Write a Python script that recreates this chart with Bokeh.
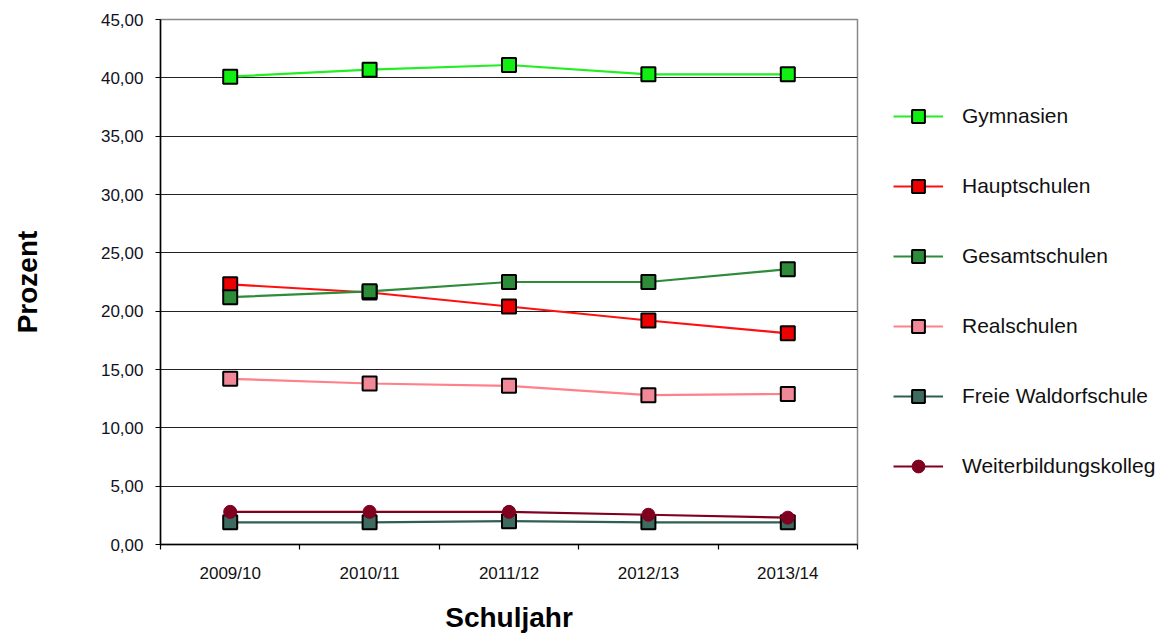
import numpy as np
from bokeh.plotting import figure
from bokeh.models import Range1d, FixedTicker, CustomJSTickFormatter, Legend, LegendItem
from bokeh.embed import file_html
from bokeh.resources import INLINE

categories = ["2009/10", "2010/11", "2011/12", "2012/13", "2013/14"]
gymnasien = [40.1, 40.7, 41.1, 40.3, 40.3]
hauptschulen = [22.3, 21.6, 20.4, 19.2, 18.1]
gesamtschulen = [21.2, 21.7, 22.5, 22.5, 23.6]
realschulen = [14.2, 13.8, 13.6, 12.8, 12.9]
waldorf = [1.9, 1.9, 2.0, 1.9, 1.9]
weiterbildung = [2.8, 2.8, 2.8, 2.55, 2.3]
y_ticks = [0, 5, 10, 15, 20, 25, 30, 35, 40, 45]

FONT = "Liberation Sans"

xs = np.arange(len(categories)) + 0.5

p = figure(frame_width=697, frame_height=525, output_backend="svg", toolbar_location=None,
           x_range=Range1d(0, len(categories)), y_range=Range1d(0, 45),
           min_border_left=160, min_border_right=0, min_border_top=19, min_border_bottom=90)
p.background_fill_color = "white"
p.border_fill_color = "white"
p.outline_line_color = "#888888"
p.outline_line_width = 1.5

p.xgrid.grid_line_color = None
p.ygrid.grid_line_color = "#222222"
p.ygrid.grid_line_width = 1.2
p.ygrid.ticker = FixedTicker(ticks=y_ticks)

# y axis
p.yaxis.ticker = FixedTicker(ticks=y_ticks)
p.yaxis.formatter = CustomJSTickFormatter(code="return tick.toFixed(2).replace('.', ',');")
p.yaxis.axis_line_color = "black"
p.yaxis.axis_line_width = 1.5
p.yaxis.major_tick_out = 5
p.yaxis.major_tick_in = 0
p.yaxis.major_tick_line_color = "black"
p.yaxis.minor_tick_line_color = None
p.yaxis.major_label_text_font = FONT
p.yaxis.major_label_text_font_size = "17px"
p.yaxis.major_label_text_color = "#111122"
p.yaxis.major_label_standoff = 12
p.yaxis.axis_label = "Prozent"
p.yaxis.axis_label_text_font = FONT
p.yaxis.axis_label_text_font_size = "28px"
p.yaxis.axis_label_text_font_style = "bold"
p.yaxis.axis_label_text_color = "black"
p.yaxis.axis_label_standoff = 55

# x axis: labels at category centres, ticks at category boundaries
p.xaxis.ticker = FixedTicker(ticks=list(xs), minor_ticks=list(range(len(categories) + 1)))
p.xaxis.major_label_overrides = {float(x): c for x, c in zip(xs, categories)}
p.xaxis.axis_line_color = "black"
p.xaxis.axis_line_width = 1.5
p.xaxis.major_tick_out = 0
p.xaxis.major_tick_in = 0
p.xaxis.minor_tick_out = 5
p.xaxis.minor_tick_in = 0
p.xaxis.minor_tick_line_color = "black"
p.xaxis.minor_tick_line_width = 1.2
p.xaxis.major_label_text_font = FONT
p.xaxis.major_label_text_font_size = "17px"
p.xaxis.major_label_text_color = "#111111"
p.xaxis.major_label_standoff = 14
p.xaxis.axis_label = "Schuljahr"
p.xaxis.axis_label_text_font = FONT
p.xaxis.axis_label_text_font_size = "28px"
p.xaxis.axis_label_text_font_style = "bold"
p.xaxis.axis_label_text_color = "black"
p.xaxis.axis_label_standoff = 16

series = [
    ("Gymnasien", gymnasien, "#22ee22", "#11ee11", "square"),
    ("Hauptschulen", hauptschulen, "#ff1010", "#ee0000", "square"),
    ("Gesamtschulen", gesamtschulen, "#2e8b3a", "#2e8b3a", "square"),
    ("Realschulen", realschulen, "#ff8088", "#f08898", "square"),
    ("Freie Waldorfschule", waldorf, "#2f5f52", "#3d6b60", "square"),
    ("Weiterbildungskolleg", weiterbildung, "#800020", "#800020", "circle"),
]

items = []
for name, vals, lc, mc, marker in series:
    l = p.line(xs, vals, line_color=lc, line_width=2.2)
    if marker == "square":
        s = p.scatter(xs, vals, marker="square", size=14, fill_color=mc,
                      line_color="black", line_width=2)
    else:
        s = p.scatter(xs, vals, marker="circle", size=13, fill_color=mc,
                      line_color=mc, line_width=1)
    items.append(LegendItem(label=name, renderers=[l, s]))

legend = Legend(items=items, location=(36, 62), orientation="vertical",
                glyph_width=50, glyph_height=32, label_height=32, spacing=38,
                label_standoff=19, padding=0, margin=0,
                border_line_color=None, background_fill_alpha=0,
                label_text_font=FONT, label_text_font_size="21px",
                label_text_color="#111111")
p.add_layout(legend, "right")

open("out.html", "w").write(file_html(p, INLINE))
